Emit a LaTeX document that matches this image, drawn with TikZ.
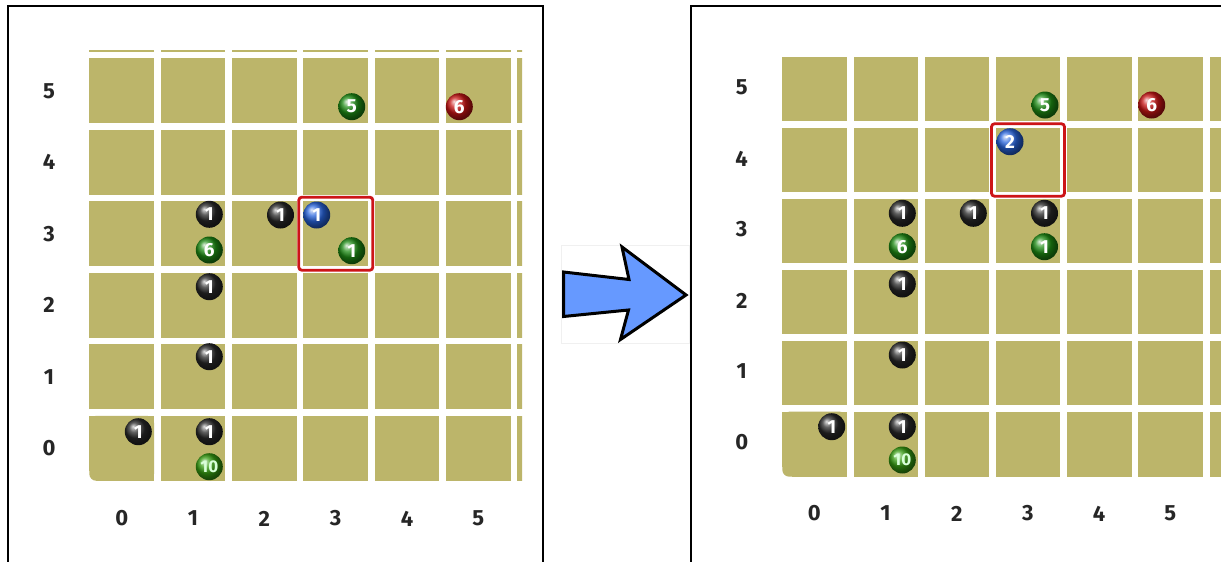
\documentclass[tikz,border=0pt]{standalone}
\usepackage{fontspec}
\setmainfont{Fira Sans}
\definecolor{cell}{RGB}{188,181,106}
\definecolor{hilite}{RGB}{204,20,24}
\definecolor{arrowblue}{RGB}{102,153,255}
\definecolor{ballgreen}{RGB}{30,140,20}
\definecolor{ballblue}{RGB}{40,100,220}
\definecolor{ballred}{RGB}{200,20,20}
\definecolor{balldark}{RGB}{40,40,40}
\tikzset{
  panel/.style={line width=2pt, draw=black},
  axislabel/.style={font=\fontsize{22}{22}\selectfont\bfseries, text=black!85, inner sep=0pt},
  ball/.style={circle, shading=ball, inner sep=0pt, minimum size=27pt, text=white,
    font=\fontsize{19}{19}\selectfont\bfseries},
  blackball/.style={ball, ball color=balldark},
  greenball/.style={ball, ball color=ballgreen},
  blueball/.style={ball, ball color=ballblue},
  redball/.style={ball, ball color=ballred},
  tenball/.style={ball, ball color=ballgreen!85!lime, text=green!15!white,
    font=\fontsize{17}{17}\selectfont\bfseries},
  selbox/.style={draw=hilite, line width=2.8pt, rounded corners=3pt},
  bigarrow/.style={fill=arrowblue, draw=black, line width=3pt, line join=miter},
}
\begin{document}
\begin{tikzpicture}[x=1pt,y=-1pt]
\useasboundingbox (0,0) rectangle (1221,562);
\fill[white] (0,0) rectangle (1221,562);

% ---------- left grid ----------
\begin{scope}
\clip (80,50) rectangle (522,490);
\foreach \c in {0,...,6}{
  \foreach \r in {1,...,6}{
    \fill[cell] ({89.3+71.3*\c},{58.3+(5-\r)*71.5}) rectangle ++(64.7,65);
  }
  \ifnum\c>0
    \fill[cell] ({89.3+71.3*\c},415.8) rectangle ++(64.7,65);
  \fi
}
\fill[cell, rounded corners=7pt] (89.3,415.8) rectangle (154,480.8);
\fill[cell] (99.3,415.8) rectangle (154,480.8);
\fill[cell] (89.3,415.8) rectangle (154,470.8);
\end{scope}

% left axis labels
\foreach \r/\y in {5/90.8,4/162.3,3/233.8,2/305.3,1/376.8,0/448.3}
  \node[axislabel] (Ly\r) at (49,\y) {\r};
\foreach \c in {0,...,5}
  \node[axislabel] (Lx\c) at ({121.8+71.3*\c},518.5) {\c};

% left selection box
\draw[selbox] (298.8,197.2) rectangle (372.8,270.2);

% left balls
\node[greenball] (L5g) at (351.7,106.7) {5};
\node[redball]   (L6r) at (459.3,106.7) {6};
\node[blackball] (L13a) at (209.3,214.3) {1};
\node[greenball] (L63) at (209.3,250) {6};
\node[blackball] (L23) at (280.5,215) {1};
\node[blueball]  (L1b) at (316.7,215) {1};
\node[greenball] (L1g) at (351.7,250.7) {1};
\node[blackball] (L12) at (209.3,286.7) {1};
\node[blackball] (L11) at (209.3,356.7) {1};
\node[blackball] (L00) at (138.3,431.7) {1};
\node[blackball] (L10) at (209.3,431.7) {1};
\node[tenball]   (L10g) at (209.3,466.7) {10};

% ---------- right grid ----------
\begin{scope}
\clip (770,56) rectangle (1221,490);
\foreach \c in {0,...,6}{
  \foreach \r in {1,...,5}{
    \fill[cell] ({782.3+71.2*\c},{56.7+(5-\r)*71}) rectangle ++(64.5,64.5);
  }
  \ifnum\c>0
    \fill[cell] ({782.3+71.2*\c},411.7) rectangle ++(64.5,65);
  \fi
}
\fill[cell, rounded corners=7pt] (782.3,411.7) rectangle (846.8,476.7);
\fill[cell] (792.3,411.7) rectangle (846.8,476.7);
\fill[cell] (782.3,411.7) rectangle (846.8,466.7);
\end{scope}

% right axis labels
\foreach \r/\y in {5/87.5,4/158.5,3/229.5,2/300.5,1/371.5,0/442.5}
  \node[axislabel] (Ry\r) at (741.7,\y) {\r};
\foreach \c in {0,...,5}
  \node[axislabel] (Rx\c) at ({814.3+71.2*\c},513.5) {\c};

% right selection box
\draw[selbox] (991.5,123.8) rectangle (1064.5,196.2);

% right balls
\node[greenball] (R5g) at (1045,105) {5};
\node[redball]   (R6r) at (1151.7,105) {6};
\node[blueball]  (R2b) at (1010,141.7) {2};
\node[blackball] (R13) at (902.3,213.3) {1};
\node[blackball] (R23) at (973.3,213.3) {1};
\node[blackball] (R33) at (1044.5,213.3) {1};
\node[greenball] (R63) at (902.3,246.7) {6};
\node[greenball] (R1g) at (1044.5,246.7) {1};
\node[blackball] (R12) at (902.3,284) {1};
\node[blackball] (R11) at (902.3,355) {1};
\node[blackball] (R00) at (831.7,426.7) {1};
\node[blackball] (R10) at (902.3,426.7) {1};
\node[tenball]   (R10g) at (902.3,460) {10};

% ---------- arrow ----------
\draw[black!6, line width=0.6pt] (561.7,245) rectangle (689,343.3);
\draw[bigarrow] (563.5,272) -- (629,279.5) -- (622,247) -- (686,295)
  -- (620.5,339.5) -- (628.5,310) -- (563.5,316.5) -- cycle;

% ---------- panel frames ----------
\draw[panel] (7.5,566) -- (7.5,5.5) -- (542.5,5.5) -- (542.5,566);
\draw[panel] (690.5,566) -- (690.5,5.5) -- (1226,5.5);
\end{tikzpicture}
\end{document}
